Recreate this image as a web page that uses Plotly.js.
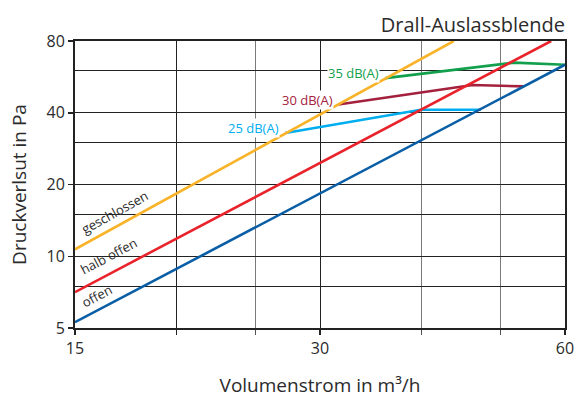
<!DOCTYPE html>
<html>
<head>
<meta charset="utf-8">
<script src="https://cdn.plot.ly/plotly-3.0.1.min.js"></script>
<style>html,body{margin:0;padding:0;background:#fff;}#chart{width:576px;height:398px;}</style>
</head>
<body>
<div id="chart"></div>
<script>
// Base characteristic lines (Volumenstrom m³/h -> Druckverlust Pa)
const offenX = [15, 60];
const offenY = [5.29, 63.6];
const halbX = [15, 57.7];
const halbY = [7.07, 80];
const geschlX = [15, 43.8];
const geschlY = [10.7, 80];
// Sound level lines
const db25X = [27.2, 39.9, 47.3];
const db25Y = [32.9, 41.2, 41.2];
const db30X = [31.6, 46.2, 53.4];
const db30Y = [43.3, 52.3, 51.6];
const db35X = [36.1, 51.9, 60];
const db35Y = [55.9, 64.9, 63.6];
// Tick labels
const xTickVals = [15, 20, 30, 60];
const xTickText = ['15', '', '30', '60'];
const xMinorVals = [25, 40, 50];
const yTickVals = [5, 10, 20, 40, 80];
const yTickText = ['5', '10', '20', '40', '80'];
const yMinorVals = [7.5, 15, 30, 60];

const FONT = 'Open Sans, Noto Sans, sans-serif';
const TXT = '#2b2b2b';
const lg = Math.log10;

function line(x, y, color) {
  return {x: x, y: y, type: 'scatter', mode: 'lines', line: {color: color, width: 2.6}, hoverinfo: 'skip', showlegend: false};
}

const data = [
  line(db25X, db25Y, '#00aeef'),
  line(db30X, db30Y, '#a3213c'),
  line(db35X, db35Y, '#12a04c'),
  line(offenX, offenY, '#0a5ea6'),
  line(halbX, halbY, '#e8232b'),
  line(geschlX, geschlY, '#f9b328')
];

function lab(x, y, text, color, anchor, angle, bg) {
  const a = {x: lg(x), y: lg(y), xref: 'x', yref: 'y', text: text, showarrow: false,
    xanchor: anchor, yanchor: 'middle', textangle: angle || 0,
    font: {family: FONT, size: 13, color: color}, borderpad: 0};
  if (bg) a.bgcolor = '#ffffff';
  return a;
}

const annotations = [
  lab(26.8, 34.5, '25 dB(A)', '#00aeef', 'right', 0, true),
  lab(31.2, 45.1, '30 dB(A)', '#a3213c', 'right', 0, true),
  lab(35.6, 58.7, '35 dB(A)', '#12a04c', 'right', 0, true),
  lab(16.8, 15.3, 'geschlossen', TXT, 'center', -29, false),
  lab(16.5, 10.0, 'halb offen', TXT, 'center', -28, false),
  lab(15.95, 6.8, 'offen', TXT, 'center', -28, false)
];

const layout = {
  width: 576, height: 398,
  margin: {l: 75, r: 11, t: 41, b: 70},
  paper_bgcolor: '#ffffff', plot_bgcolor: '#ffffff',
  font: {family: FONT, color: TXT, size: 16},
  title: {text: 'Drall-Auslassblende', x: 0.981, xref: 'container', xanchor: 'right', y: 0.937, yref: 'container', yanchor: 'middle',
    font: {family: FONT, size: 20, color: TXT}},
  xaxis: {type: 'log', range: [lg(15), lg(60)], tickmode: 'array', tickvals: xTickVals, ticktext: xTickText,
    ticks: 'outside', ticklen: 5, tickcolor: '#222', tickwidth: 1.5,
    showgrid: true, gridcolor: '#222222', gridwidth: 1,
    minor: {tickmode: 'array', tickvals: xMinorVals, showgrid: true, gridcolor: '#7a7a7a', gridwidth: 1.3, ticks: 'outside', ticklen: 5, tickcolor: '#555', tickwidth: 1.5},
    showline: true, linecolor: '#222222', linewidth: 2, mirror: true, zeroline: false,
    tickfont: {family: FONT, size: 16, color: TXT},
    title: {text: 'Volumenstrom in m³/h', font: {family: FONT, size: 19, color: TXT}, standoff: 20}},
  yaxis: {type: 'log', range: [lg(5), lg(80)], tickmode: 'array', tickvals: yTickVals, ticktext: yTickText,
    ticks: 'outside', ticklen: 5, tickcolor: '#222', tickwidth: 1.5,
    showgrid: true, gridcolor: '#222222', gridwidth: 1,
    minor: {tickmode: 'array', tickvals: yMinorVals, showgrid: true, gridcolor: '#222222', gridwidth: 1, ticks: ''},
    showline: true, linecolor: '#222222', linewidth: 2, mirror: true, zeroline: false,
    tickfont: {family: FONT, size: 16, color: TXT},
    title: {text: 'Druckverlsut in Pa', font: {family: FONT, size: 19, color: TXT}, standoff: 15}},
  annotations: annotations
};

Plotly.newPlot('chart', data, layout, {staticPlot: true, displayModeBar: false});
</script>
</body>
</html>
